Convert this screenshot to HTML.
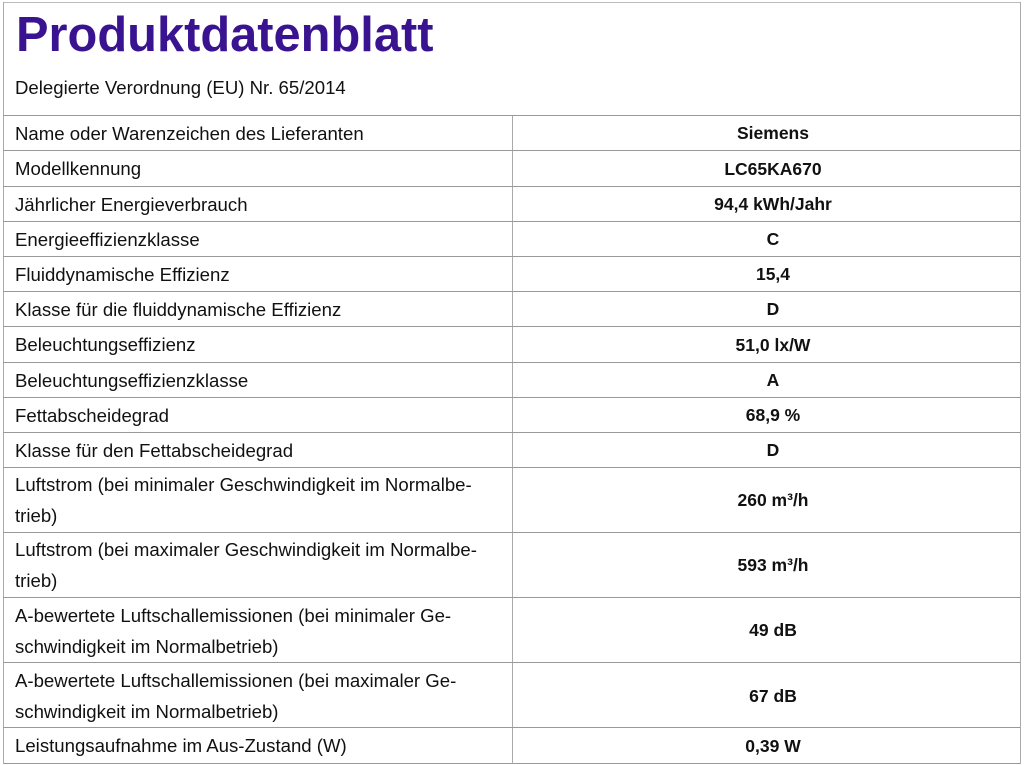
<!DOCTYPE html>
<html><head><meta charset="utf-8"><style>
body{margin:0;width:1024px;height:765px;background:#fff;position:relative;overflow:hidden;font-family:"Liberation Sans",sans-serif;color:#111}
.h{position:absolute;left:3px;width:1017px;height:1px;background:#999}
.v{position:absolute;width:1px;background:#aaa}
.t{position:absolute;left:15px;font-size:18.6px;line-height:31px;white-space:nowrap}
.r{position:absolute;left:513px;width:520px;text-align:center;font-size:17.5px;font-weight:bold}
</style></head><body>
<div class="h" style="top:2px;background:#bbb"></div>
<div class="h" style="top:763px;background:#999"></div>
<div class="v" style="left:3px;top:2px;height:762px"></div>
<div class="v" style="left:1020px;top:2px;height:762px"></div>
<div class="v" style="left:512px;top:115px;height:649px"></div>
<div style="position:absolute;left:16px;top:7px;font-size:48.8px;font-weight:bold;color:#3a1490">Produktdatenblatt</div>
<div class="t" style="top:72px">Delegierte Verordnung (EU) Nr. 65/2014</div>
<div class="h" style="top:115px"></div>
<div class="h" style="top:150px"></div>
<div class="h" style="top:186px"></div>
<div class="h" style="top:221px"></div>
<div class="h" style="top:256px"></div>
<div class="h" style="top:291px"></div>
<div class="h" style="top:326px"></div>
<div class="h" style="top:362px"></div>
<div class="h" style="top:397px"></div>
<div class="h" style="top:432px"></div>
<div class="h" style="top:467px"></div>
<div class="h" style="top:532px"></div>
<div class="h" style="top:597px"></div>
<div class="h" style="top:662px"></div>
<div class="h" style="top:727px"></div>

<div class="t" style="top:118px">Name oder Warenzeichen des Lieferanten</div><div class="r" style="top:123px">Siemens</div>
<div class="t" style="top:153px">Modellkennung</div><div class="r" style="top:159px">LC65KA670</div>
<div class="t" style="top:189px">Jährlicher Energieverbrauch</div><div class="r" style="top:194px">94,4 kWh/Jahr</div>
<div class="t" style="top:224px">Energieeffizienzklasse</div><div class="r" style="top:229px">C</div>
<div class="t" style="top:259px">Fluiddynamische Effizienz</div><div class="r" style="top:264px">15,4</div>
<div class="t" style="top:294px">Klasse für die fluiddynamische Effizienz</div><div class="r" style="top:299px">D</div>
<div class="t" style="top:329px">Beleuchtungseffizienz</div><div class="r" style="top:335px">51,0 lx/W</div>
<div class="t" style="top:365px">Beleuchtungseffizienzklasse</div><div class="r" style="top:370px">A</div>
<div class="t" style="top:400px">Fettabscheidegrad</div><div class="r" style="top:405px">68,9 %</div>
<div class="t" style="top:435px">Klasse für den Fettabscheidegrad</div><div class="r" style="top:440px">D</div>
<div class="t" style="top:469px">Luftstrom (bei minimaler Geschwindigkeit im Normalbe-<br>trieb)</div><div class="r" style="top:490px">260 m³/h</div>
<div class="t" style="top:534px">Luftstrom (bei maximaler Geschwindigkeit im Normalbe-<br>trieb)</div><div class="r" style="top:555px">593 m³/h</div>
<div class="t" style="top:600px">A-bewertete Luftschallemissionen (bei minimaler Ge-<br>schwindigkeit im Normalbetrieb)</div><div class="r" style="top:620px">49 dB</div>
<div class="t" style="top:665px">A-bewertete Luftschallemissionen (bei maximaler Ge-<br>schwindigkeit im Normalbetrieb)</div><div class="r" style="top:686px">67 dB</div>
<div class="t" style="top:730px">Leistungsaufnahme im Aus-Zustand (W)</div><div class="r" style="top:736px">0,39 W</div>
</body></html>
